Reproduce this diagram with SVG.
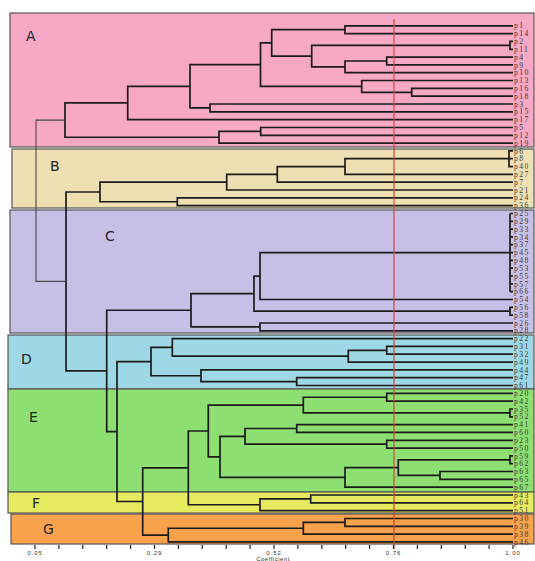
<svg xmlns="http://www.w3.org/2000/svg" width="535" height="561" viewBox="0 0 535 561">
<style>
.box{stroke:#555;stroke-width:1.2}
.let{font-family:"DejaVu Sans","Liberation Sans",sans-serif;font-size:14px;fill:#222}
.lbl{font-family:"Liberation Serif",serif;font-size:7.6px;letter-spacing:1.4px;fill:#3a3a3a}
.br{fill:none;stroke:#1b1b1b;stroke-width:1.7}
.tick{fill:none;stroke:#222;stroke-width:1.2}
.tl{font-family:"Liberation Sans",sans-serif;font-size:6px;letter-spacing:1px;fill:#333;text-anchor:middle}
</style>
<rect width="535" height="561" fill="#ffffff"/>
<g id="cluster-A"><rect class="box" x="10" y="13" width="524" height="134" fill="#F7A8C4"/><text class="let" x="26" y="41">A</text></g>
<g id="cluster-B"><rect class="box" x="12" y="149" width="522" height="59" fill="#EEE0B2"/><text class="let" x="50" y="171">B</text></g>
<g id="cluster-C"><rect class="box" x="10" y="210" width="524" height="123" fill="#C7BFE6"/><text class="let" x="105" y="241">C</text></g>
<g id="cluster-D"><rect class="box" x="8" y="335" width="526" height="54" fill="#9ED8E6"/><text class="let" x="21" y="364">D</text></g>
<g id="cluster-E"><rect class="box" x="8" y="389" width="526" height="103" fill="#8EDF72"/><text class="let" x="29" y="422">E</text></g>
<g id="cluster-F"><rect class="box" x="8" y="492" width="526" height="21" fill="#E5EA5E"/><text class="let" x="32" y="508">F</text></g>
<g id="cluster-G"><rect class="box" x="11" y="514" width="523" height="30" fill="#F9A24C"/><text class="let" x="43" y="534">G</text></g>
<g id="connectors">
<path class="br" d="M513 25.8H345V33.6H513M513 41.4H510V49.3H513M513 57.1H386.7V64.9H513M386.7 61H345V72.7H513M510 45.350H311.7V66.85H345M345 29.7H271.7V56.1H311.7M513 88.4H411.7V96.2H513M513 80.5H361.7V92.3H411.7M271.7 42.9H260.5V86.4H361.7M513 104H210V111.8H513M260.5 64.65H190V107.9H210M190 86.3H127.7V119.6H513M513 127.5H260.7V135.3H513M260.7 131.4H219V143.1H513M127.7 102.95H65V137.25H219"/>
<path class="br" d="M513 150.9H509V166.6H513M513 158.7H345V174.4H513M345 166.55H277.3V182.2H513M277.3 174.4H226.7V190H513M513 197.8H177.3V205.7H513M226.7 182.2H100V201.75H177.3"/>
<path class="br" d="M510 213.5V291.7M510 213.5H513M510 221.3H513M510 229.1H513M510 236.9H513M510 244.7H513M510 260.4H513M510 268.2H513M510 276H513M510 283.9H513M510 291.7H513M513 252.6H260V299.5H513M513 307.3H510V315.1H513M260 276.05H254V311.2H510M513 323H260V330.8H513M254 293.6H191V326.9H260"/>
<path class="br" d="M513 346.4H386.7V354.2H513M386.7 350.3H348.3V362.1H513M513 338.6H172.3V356.2H348.3M513 377.7H296.7V385.5H513M513 369.9H201V381.6H296.7M172.3 347.4H151V375.75H201"/>
<path class="br" d="M513 393.3H386.7V401.2H513M513 409H510V416.8H513M386.7 397.25H303.3V412.9H510M513 424.6H296.7V432.4H513M513 440.3H386.7V448.1H513M296.7 428.5H245V444.2H386.7M513 455.9H510V463.7H513M513 471.5H440V479.4H513M510 459.8H398.3V475.45H440M398.3 467.6H345V487.2H513M245 436.35H220V477.4H345M303.3 405.1H208.3V456.9H220"/>
<path class="br" d="M513 495H310.7V502.8H513M310.7 498.9H260V510.6H513M208.3 431H188.3V504.75H260"/>
<path class="br" d="M513 518.5H345V526.3H513M345 522.4H303.3V534.1H513M303.3 528.25H168.3V541.9H513M188.3 467.9H142.7V535.1H168.3M151 361.6H117V501.5H142.7M191 310.25H106.7V431.55H117M100 191.98H66V370.9H106.7"/>
<path fill="none" stroke="#4a4a4a" stroke-width="1.1" d="M65 120.1H36V281.4H66"/>
</g>
<g id="cutoff"><line x1="394" y1="19" x2="394" y2="549" stroke="#D2463C" stroke-width="1.4" stroke-opacity="0.85"/></g>
<g id="leaves">
<text class="lbl" x="514" y="28.4">p1</text>
<text class="lbl" x="514" y="36.2">p14</text>
<text class="lbl" x="514" y="44">p2</text>
<text class="lbl" x="514" y="51.9">p11</text>
<text class="lbl" x="514" y="59.7">p4</text>
<text class="lbl" x="514" y="67.5">p9</text>
<text class="lbl" x="514" y="75.3">p10</text>
<text class="lbl" x="514" y="83.1">p13</text>
<text class="lbl" x="514" y="91">p16</text>
<text class="lbl" x="514" y="98.8">p18</text>
<text class="lbl" x="514" y="106.6">p3</text>
<text class="lbl" x="514" y="114.4">p15</text>
<text class="lbl" x="514" y="122.2">p17</text>
<text class="lbl" x="514" y="130.1">p5</text>
<text class="lbl" x="514" y="137.9">p12</text>
<text class="lbl" x="514" y="145.7">p19</text>
<text class="lbl" x="514" y="153.5">p6</text>
<text class="lbl" x="514" y="161.3">p8</text>
<text class="lbl" x="514" y="169.2">p40</text>
<text class="lbl" x="514" y="177">p27</text>
<text class="lbl" x="514" y="184.8">p7</text>
<text class="lbl" x="514" y="192.6">p21</text>
<text class="lbl" x="514" y="200.4">p24</text>
<text class="lbl" x="514" y="208.3">p36</text>
<text class="lbl" x="514" y="216.1">p25</text>
<text class="lbl" x="514" y="223.9">p29</text>
<text class="lbl" x="514" y="231.7">p33</text>
<text class="lbl" x="514" y="239.5">p34</text>
<text class="lbl" x="514" y="247.3">p37</text>
<text class="lbl" x="514" y="255.2">p45</text>
<text class="lbl" x="514" y="263">p48</text>
<text class="lbl" x="514" y="270.8">p53</text>
<text class="lbl" x="514" y="278.6">p55</text>
<text class="lbl" x="514" y="286.5">p57</text>
<text class="lbl" x="514" y="294.3">p66</text>
<text class="lbl" x="514" y="302.1">p54</text>
<text class="lbl" x="514" y="309.9">p56</text>
<text class="lbl" x="514" y="317.7">p58</text>
<text class="lbl" x="514" y="325.6">p26</text>
<text class="lbl" x="514" y="333.4">p28</text>
<text class="lbl" x="514" y="341.2">p22</text>
<text class="lbl" x="514" y="349">p31</text>
<text class="lbl" x="514" y="356.8">p32</text>
<text class="lbl" x="514" y="364.7">p49</text>
<text class="lbl" x="514" y="372.5">p44</text>
<text class="lbl" x="514" y="380.3">p47</text>
<text class="lbl" x="514" y="388.1">p61</text>
<text class="lbl" x="514" y="395.9">p20</text>
<text class="lbl" x="514" y="403.8">p42</text>
<text class="lbl" x="514" y="411.6">p35</text>
<text class="lbl" x="514" y="419.4">p52</text>
<text class="lbl" x="514" y="427.2">p41</text>
<text class="lbl" x="514" y="435">p60</text>
<text class="lbl" x="514" y="442.9">p23</text>
<text class="lbl" x="514" y="450.7">p50</text>
<text class="lbl" x="514" y="458.5">p59</text>
<text class="lbl" x="514" y="466.3">p62</text>
<text class="lbl" x="514" y="474.1">p63</text>
<text class="lbl" x="514" y="482">p65</text>
<text class="lbl" x="514" y="489.8">p67</text>
<text class="lbl" x="514" y="497.6">p43</text>
<text class="lbl" x="514" y="505.4">p64</text>
<text class="lbl" x="514" y="513.2">p51</text>
<text class="lbl" x="514" y="521.1">p30</text>
<text class="lbl" x="514" y="528.9">p39</text>
<text class="lbl" x="514" y="536.7">p38</text>
<text class="lbl" x="514" y="544.5">p46</text>
</g>
<g id="axis">
<path class="tick" d="M35 545v4M58.9 545v4M82.8 545v4M106.7 545v4M130.6 545v4M154.5 545v4M178.4 545v4M202.3 545v4M226.2 545v4M250.1 545v4M274 545v4M297.9 545v4M321.8 545v4M345.7 545v4M369.6 545v4M393.5 545v4M417.4 545v4M441.3 545v4M465.2 545v4M489.1 545v4M513 545v4"/>
<text class="tl" x="35" y="555">0.05</text>
<text class="tl" x="154.5" y="555">0.29</text>
<text class="tl" x="274" y="555">0.52</text>
<text class="tl" x="393.5" y="555">0.76</text>
<text class="tl" x="513" y="555">1.00</text>
<text class="tl" x="273" y="560.5" style="font-size:6px;letter-spacing:0.5px">Coefficient</text>
</g>
</svg>
